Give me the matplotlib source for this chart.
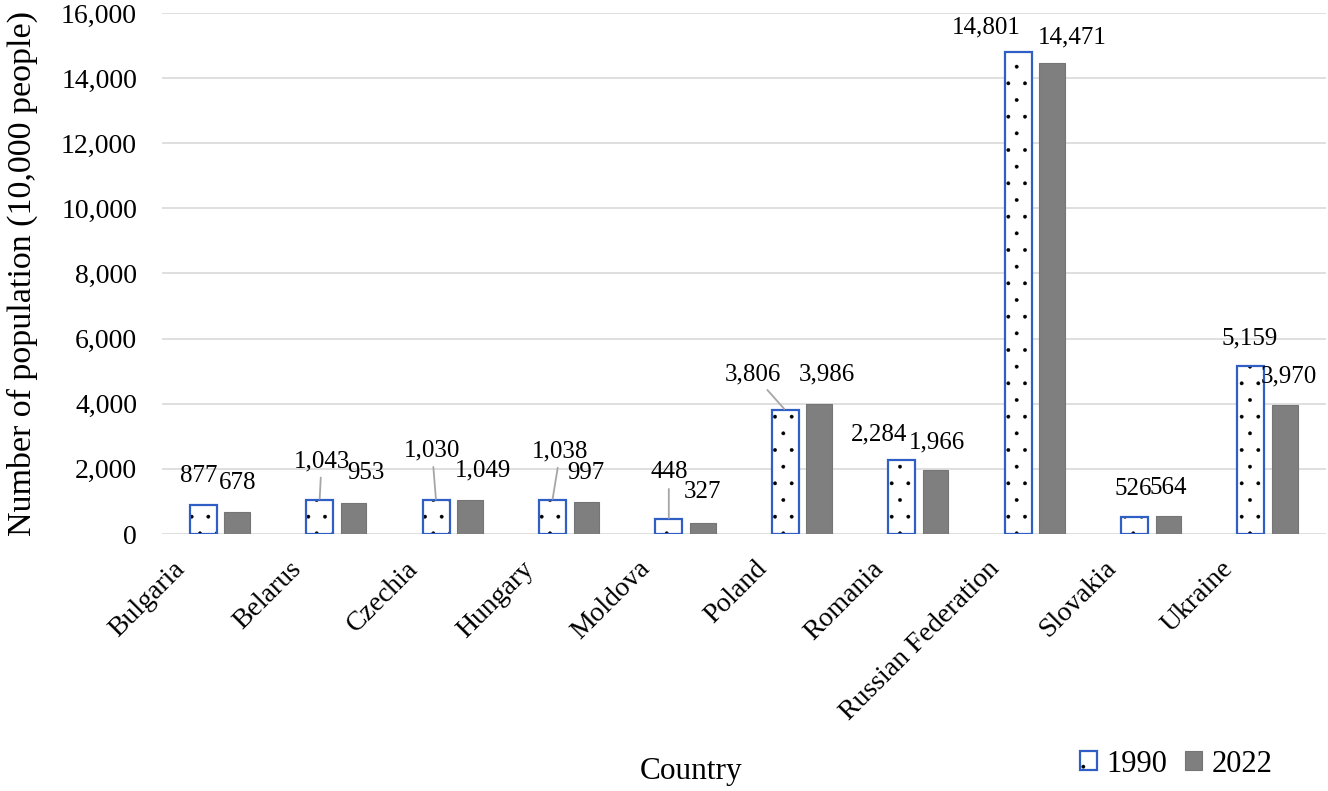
import matplotlib
matplotlib.use("Agg")
import matplotlib.pyplot as plt
import matplotlib.transforms as mtransforms
from matplotlib.legend_handler import HandlerTuple
import numpy as np

plt.rcParams['font.family'] = ['Liberation Serif', 'DejaVu Serif']
plt.rcParams['hatch.linewidth'] = 0.3

# data (10,000 people)
countries = ["Bulgaria", "Belarus", "Czechia", "Hungary", "Moldova",
             "Poland", "Romania", "Russian Federation", "Slovakia", "Ukraine"]
pop_1990 = [877, 1043, 1030, 1038, 448, 3806, 2284, 14801, 526, 5159]
pop_2022 = [678, 953, 1049, 997, 327, 3986, 1966, 14471, 564, 3970]
years = ["1990", "2022"]

# label placement in pixels relative to the bar top (dx, dy), leader line flag
lab_1990 = [(-4, 29, False), (2, 39, True), (-4, 50, True), (8, 49, True), (0, 47, True),
            (-32, 36, True), (-23, 25, False), (-32, 25, False), (-1, 28, False), (-1, 28, False)]
lab_2022 = [(0, 29), (12, 30), (13, 29), (-1, 29), (0, 31),
            (8, 30), (1, 28), (20, 25), (0, 28), (4, 28)]

blue = "#2f5fc4"
gray = "#7f7f7f"
FS = 20     # axis ticks
FS_LAB = 18  # data labels

fig = plt.figure(figsize=(13.28, 7.91), dpi=100)
ax = fig.add_axes([0.1220, 0.3249, 0.8765, 0.6587])

x = np.arange(len(countries))
off = 0.146

# 1990: dotted fill in black, blue outline drawn on top
b_fill = ax.bar(x - off, pop_1990, width=0.232, color="white", edgecolor="black",
                linewidth=0, hatch=".", zorder=2)
b_edge = ax.bar(x - off, pop_1990, width=0.232, facecolor="none", edgecolor=blue,
                linewidth=1.6, zorder=3)
b_2022 = ax.bar(x + off, pop_2022, width=0.22, color=gray, edgecolor="#757575",
                linewidth=0.8, zorder=2)

for i, v in enumerate(pop_1990):
    dx, dy, leader = lab_1990[i]
    ap = None
    if leader:
        ap = dict(arrowstyle="-", color="#a6a6a6", lw=1.3, shrinkA=2, shrinkB=1)
    ax.annotate(f"{v:,}", xy=(x[i] - off, v), xytext=(dx, dy), textcoords="offset pixels",
                ha="center", va="center", fontsize=FS_LAB, arrowprops=ap, zorder=4)
for i, v in enumerate(pop_2022):
    dx, dy = lab_2022[i]
    ax.annotate(f"{v:,}", xy=(x[i] + off, v), xytext=(dx, dy), textcoords="offset pixels",
                ha="center", va="center", fontsize=FS_LAB, zorder=4)

ax.set_xlim(-0.5, len(countries) - 0.5)
ax.set_ylim(0, 16000)
ax.set_yticks(np.arange(0, 16001, 2000))
ax.set_yticklabels([f"{t:,}" for t in range(0, 16001, 2000)], fontsize=FS)
ax.tick_params(axis="y", length=0, pad=18)
ax.set_xticks([])
ax.grid(axis="y", color="#d9d9d9", linewidth=1.2)
ax.set_axisbelow(True)
for s in ax.spines.values():
    s.set_visible(False)

# rotated category labels
tr = mtransforms.blended_transform_factory(ax.transData, ax.transAxes) + \
    mtransforms.ScaledTranslation(-0.39, -0.31, fig.dpi_scale_trans)
for i, c in enumerate(countries):
    ax.text(x[i], 0, c, transform=tr, rotation=45, rotation_mode="anchor",
            ha="right", va="center", fontsize=FS)

fig.text(22 / 1328, 1 - 273 / 791, "Number of population (10,000 people)",
         rotation=90, ha="center", va="center", fontsize=24.5)
fig.text(691 / 1328, 1 - 772 / 791, "Country", ha="center", va="center", fontsize=22.5)

fig.legend([(b_fill[0], b_edge[0]), b_2022[0]], years,
           handler_map={tuple: HandlerTuple(ndivide=1)},
           loc="center", bbox_to_anchor=(1176 / 1328, 1 - 764 / 791), ncol=2,
           frameon=False, fontsize=22, handlelength=0.55, handleheight=0.55,
           handletextpad=0.3, columnspacing=0.6, borderpad=0)

fig.savefig("out.png", dpi=100)
